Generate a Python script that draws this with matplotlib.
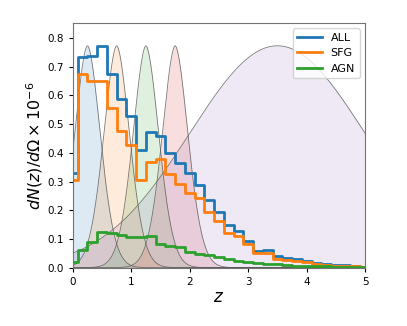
import numpy as np
import matplotlib
matplotlib.use("Agg")
import matplotlib.pyplot as plt

# redshift grid (bin centres, steps drawn mid)
z = np.linspace(0, 5, 31)

all_vals = [0.330, 0.734, 0.738, 0.773, 0.673, 0.587, 0.527, 0.410, 0.473, 0.460,
            0.398, 0.363, 0.329, 0.288, 0.235, 0.193, 0.149, 0.128, 0.094, 0.059,
            0.062, 0.040, 0.033, 0.029, 0.023, 0.017, 0.012, 0.010, 0.008, 0.006, 0.003]
sfg_vals = [0.305, 0.676, 0.649, 0.651, 0.556, 0.477, 0.426, 0.305, 0.367, 0.377,
            0.326, 0.291, 0.259, 0.244, 0.194, 0.164, 0.122, 0.110, 0.082, 0.050,
            0.052, 0.031, 0.026, 0.022, 0.019, 0.014, 0.009, 0.007, 0.006, 0.004, 0.002]
agn_vals = [0.021, 0.062, 0.091, 0.123, 0.120, 0.114, 0.106, 0.106, 0.111, 0.082,
            0.077, 0.073, 0.056, 0.048, 0.044, 0.038, 0.030, 0.024, 0.019, 0.015,
            0.012, 0.012, 0.008, 0.007, 0.006, 0.005, 0.004, 0.003, 0.003, 0.002, 0.001]

# window functions (filled curves)
win_centres = [0.25, 0.75, 1.25, 1.75, 3.5]
win_widths = [0.32, 0.32, 0.32, 0.32, 2.12]
win_powers = [1.8, 1.8, 1.8, 1.8, 2.0]
win_colors = ["tab:blue", "tab:orange", "tab:green", "tab:red", "tab:purple"]

series_names = ["ALL", "SFG", "AGN"]
series_colors = ["#1f77b4", "#ff7f0e", "#2ca02c"]

fig = plt.figure(figsize=(4.07, 3.26), dpi=100)
ax = fig.add_axes([0.179, 0.179, 0.718, 0.751])

amp = max(all_vals)
zz = np.linspace(0, 5, 600)
for c, w, p, col in zip(win_centres, win_widths, win_powers, win_colors):
    f = amp * np.exp(-(np.abs(zz - c) / w) ** p)
    ax.fill_between(zz, 0, f, color=col, alpha=0.15, lw=0)
    ax.plot(zz, f, color="0.35", lw=0.6, alpha=0.8)

for vals, name, col in zip([all_vals, sfg_vals, agn_vals], series_names, series_colors):
    ax.step(z, vals, where="mid", color=col, lw=2, label=name)

ax.set_xlim(0, 5)
ax.set_ylim(0, 0.853)
ax.set_yticks(np.arange(0, 0.81, 0.1))
ax.set_xticks(range(6))
ax.tick_params(labelsize=7.5, length=3)
ax.set_xlabel(r"$z$", fontsize=12, labelpad=1)
ax.set_ylabel(r"$dN(z)/d\Omega \times 10^{-6}$", fontsize=11.5, labelpad=2)
for s in ax.spines.values():
    s.set_color("0.45")
ax.legend(loc="upper right", fontsize=8, handlelength=2.2, borderaxespad=0.5)

fig.savefig("out.png", dpi=100)
